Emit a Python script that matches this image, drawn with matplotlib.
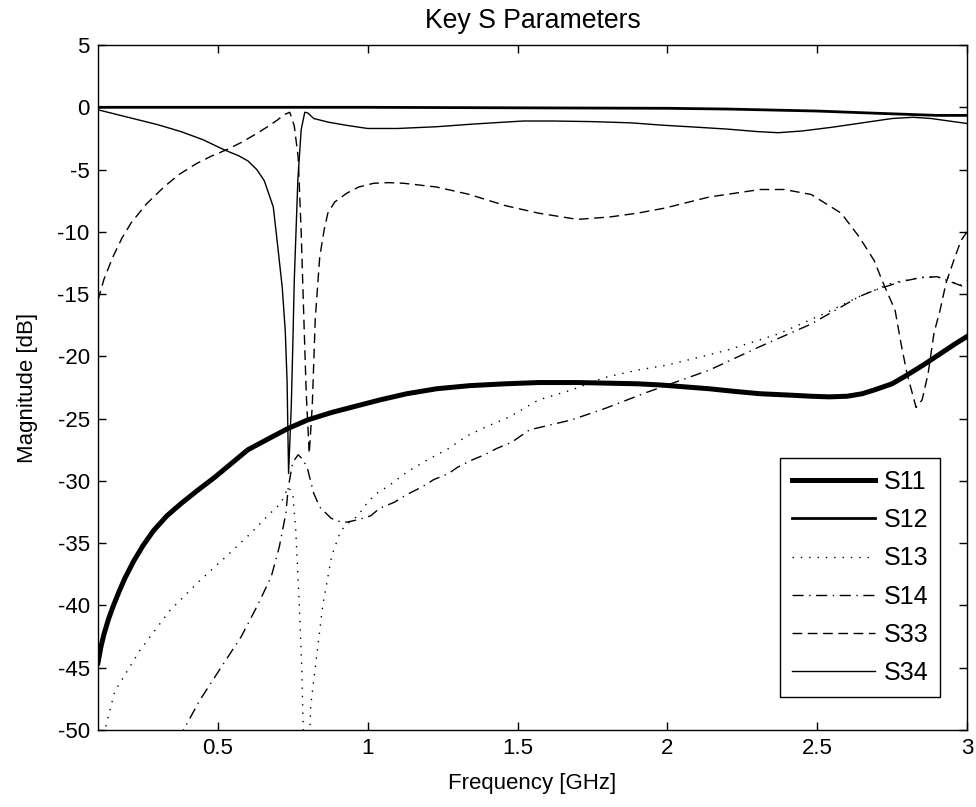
import numpy as np
from matplotlib import pyplot as plt

plt.rcParams['font.family'] = ['Liberation Sans', 'DejaVu Sans']
plt.rcParams['font.size'] = 16
plt.rcParams['axes.unicode_minus'] = False

# S11 return loss
f_s11 = [0.10, 0.11, 0.12, 0.135, 0.15, 0.17, 0.19, 0.22, 0.25, 0.285, 0.33, 0.378, 0.43,
         0.49, 0.55, 0.60, 0.67, 0.733, 0.80, 0.88, 0.96, 1.04, 1.13, 1.23, 1.34, 1.46, 1.57,
         1.70, 1.80, 1.90, 1.98, 2.06, 2.14, 2.22, 2.31, 2.40, 2.48, 2.54, 2.60, 2.65, 2.69,
         2.75, 2.80, 2.86, 2.91, 2.96, 3.00]
s11 = [-44.6, -43.3, -42.3, -41.1, -40.1, -38.9, -37.8, -36.4, -35.2, -34.0, -32.8, -31.8, -30.8,
       -29.7, -28.5, -27.5, -26.6, -25.8, -25.1, -24.5, -24.0, -23.5, -23.0, -22.6, -22.35, -22.2, -22.1,
       -22.1, -22.15, -22.2, -22.3, -22.45, -22.6, -22.8, -23.0, -23.1, -23.2, -23.25, -23.2, -23.0, -22.7,
       -22.2, -21.5, -20.6, -19.8, -19.0, -18.4]

# S12 through
f_s12 = [0.10, 0.50, 1.00, 1.60, 2.00, 2.20, 2.50, 2.70, 2.90, 3.00]
s12 = [0.0, 0.0, 0.0, -0.05, -0.08, -0.14, -0.30, -0.48, -0.65, -0.65]

# S13 coupled
f_s13 = [0.10, 0.13, 0.156, 0.24, 0.34, 0.44, 0.544, 0.61, 0.67, 0.71, 0.735, 0.75, 0.76,
         0.77, 0.78, 0.79, 0.80, 0.81, 0.83, 0.85, 0.88, 0.91, 0.94, 0.967, 1.00, 1.03,
         1.07, 1.13, 1.20, 1.27, 1.33, 1.40, 1.47, 1.57, 1.68, 1.79, 1.90, 2.00, 2.20,
         2.37, 2.53, 2.64, 2.75, 2.86, 2.94, 2.97, 3.00]
s13 = [-53.0, -49.3, -46.9, -43.6, -40.4, -38.0, -35.7, -34.2, -32.7, -31.8, -30.5, -31.0, -34.0,
       -39.0, -45.0, -55.0, -55.0, -48.0, -44.0, -40.0, -36.0, -34.0, -33.3, -32.8, -31.7, -31.0,
       -30.4, -29.3, -28.3, -27.4, -26.4, -25.6, -24.9, -23.5, -22.7, -21.7, -21.1, -20.7, -19.5,
       -18.2, -16.5, -15.2, -14.1, -13.6, -13.7, -14.4, -13.9]

# S14 isolated
f_s14 = [0.30, 0.385, 0.44, 0.51, 0.578, 0.63, 0.678, 0.705, 0.727, 0.735, 0.75, 0.768,
         0.785, 0.80, 0.82, 0.84, 0.878, 0.911, 0.933, 0.97, 1.01, 1.04, 1.09, 1.13, 1.18,
         1.22, 1.27, 1.30, 1.35, 1.39, 1.43, 1.48, 1.54, 1.68, 1.79, 1.93, 2.14, 2.31,
         2.48, 2.64, 2.69, 2.78, 2.84, 2.90, 3.00]
s14 = [-57.0, -50.0, -47.6, -45.0, -42.5, -40.1, -37.7, -35.3, -32.6, -30.5, -28.5, -27.9,
       -28.3, -29.1, -31.0, -32.1, -33.0, -33.3, -33.3, -33.1, -32.8, -32.2, -31.7, -31.1, -30.5,
       -29.9, -29.4, -28.9, -28.3, -27.9, -27.4, -26.9, -25.9, -25.1, -24.2, -22.9, -21.1, -19.2,
       -17.4, -15.2, -14.7, -14.0, -13.7, -13.6, -14.5]

# S33 reflection
f_s33 = [0.10, 0.12, 0.15, 0.18, 0.21, 0.26, 0.32, 0.37, 0.43, 0.48, 0.53, 0.58, 0.63, 0.67,
         0.70, 0.72, 0.74, 0.755, 0.768, 0.778, 0.787, 0.795, 0.805, 0.815, 0.825, 0.84, 0.855,
         0.867, 0.89, 0.93, 0.97, 1.02, 1.07, 1.12, 1.23, 1.34, 1.46, 1.57, 1.70, 1.81, 1.90,
         1.99, 2.14, 2.31, 2.39, 2.48, 2.58, 2.64, 2.69, 2.72, 2.76, 2.78, 2.80, 2.83, 2.85,
         2.87, 2.89, 2.91, 2.93, 2.96, 2.98, 3.00]
s33 = [-15.5, -13.8, -12.0, -10.5, -9.3, -7.8, -6.4, -5.4, -4.5, -3.9, -3.4, -2.8, -2.1, -1.5,
       -1.0, -0.6, -0.4, -1.5, -4.0, -10.0, -17.0, -23.0, -27.8, -24.0, -17.0, -12.0, -9.8,
       -8.5, -7.6, -6.9, -6.4, -6.1, -6.05, -6.1, -6.4, -7.0, -7.9, -8.5, -9.0, -8.8, -8.5,
       -8.1, -7.2, -6.6, -6.6, -7.0, -8.5, -10.4, -12.3, -14.1, -16.3, -19.0, -21.4, -24.1, -23.5,
       -21.4, -18.1, -16.3, -14.1, -12.0, -10.7, -10.0]

# S34 through
f_s34 = [0.10, 0.15, 0.20, 0.25, 0.30, 0.378, 0.45, 0.52, 0.57, 0.60, 0.63, 0.655, 0.685,
         0.70, 0.715, 0.725, 0.731, 0.736, 0.745, 0.75, 0.755, 0.767, 0.778, 0.79, 0.80, 0.82,
         0.87, 0.93, 1.00, 1.10, 1.23, 1.35, 1.45, 1.52, 1.62, 1.75, 1.88, 1.98, 2.10, 2.20,
         2.30, 2.37, 2.45, 2.55, 2.65, 2.75, 2.82, 2.88, 2.94, 3.00]
s34 = [-0.2, -0.5, -0.8, -1.1, -1.4, -1.96, -2.6, -3.4, -3.9, -4.3, -5.0, -5.9, -8.0,
       -11.2, -14.5, -18.0, -22.0, -29.4, -24.0, -19.2, -13.9, -5.8, -1.8, -0.4, -0.45, -0.9,
       -1.2, -1.45, -1.7, -1.7, -1.56, -1.35, -1.2, -1.1, -1.1, -1.15, -1.25, -1.43, -1.6, -1.75,
       -1.95, -2.04, -1.9, -1.6, -1.25, -0.9, -0.8, -0.9, -1.1, -1.3]

fig = plt.figure(figsize=(9.76, 8.07), dpi=100)
ax = fig.add_axes([0.1004, 0.0954, 0.8904, 0.8488])

ax.plot(f_s11, s11, color='k', lw=3.6, label='S11')
ax.plot(f_s12, s12, color='k', lw=2.0, label='S12')
ax.plot(f_s13, s13, color='k', lw=1.0, linestyle=(0, (1, 5)), label='S13')
ax.plot(f_s14, s14, color='k', lw=1.0, linestyle=(0, (8, 4, 1, 4)), label='S14')
ax.plot(f_s33, s33, color='k', lw=1.0, linestyle=(0, (7, 4)), label='S33')
ax.plot(f_s34, s34, color='k', lw=1.0, label='S34')

ax.set_xlim(0.1, 3)
ax.set_ylim(-50, 5)
ax.set_xticks(np.arange(0.5, 3.01, 0.5))
ax.set_xticklabels(['0.5', '1', '1.5', '2', '2.5', '3'])
ax.set_yticks(np.arange(-50, 6, 5))
ax.tick_params(direction='in', length=6, width=1, top=True, right=True, pad=6)
for sp in ax.spines.values():
    sp.set_linewidth(1.0)

ax.set_title('Key S Parameters', pad=12)
ax.set_xlabel('Frequency [GHz]', labelpad=10)
ax.set_ylabel('Magnitude [dB]', labelpad=14)

leg = ax.legend(loc='lower right', bbox_to_anchor=(0.969, 0.048), borderaxespad=0,
                fontsize=18, handlelength=3.3, handletextpad=0.35, labelspacing=0.57,
                borderpad=0.48, fancybox=False, framealpha=1, edgecolor='k')
leg.get_frame().set_linewidth(1.0)

fig.savefig('out.png', dpi=100)
